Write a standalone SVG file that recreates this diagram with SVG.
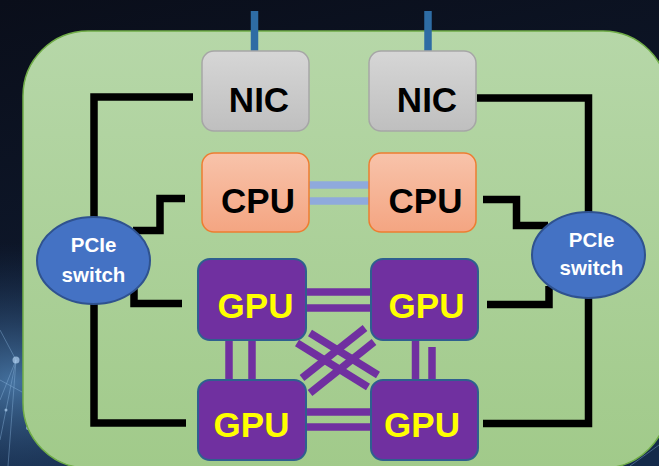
<svg xmlns="http://www.w3.org/2000/svg" width="659" height="466" viewBox="0 0 659 466">
<defs>
<linearGradient id="bg" x1="0" y1="0" x2="0.3" y2="1">
<stop offset="0" stop-color="#0a0e1a"/>
<stop offset="0.5" stop-color="#0d1628"/>
<stop offset="1" stop-color="#142a4a"/>
</linearGradient>
<radialGradient id="glow" cx="0.02" cy="0.82" r="0.3">
<stop offset="0" stop-color="#4a7aaa" stop-opacity="0.9"/>
<stop offset="1" stop-color="#1a3358" stop-opacity="0"/>
</radialGradient>
<linearGradient id="board" x1="0" y1="0" x2="0" y2="1">
<stop offset="0" stop-color="#b6d7a8"/>
<stop offset="1" stop-color="#a1ca8a"/>
</linearGradient>
<linearGradient id="nicg" x1="0" y1="0" x2="0" y2="1">
<stop offset="0" stop-color="#d6d6d6"/>
<stop offset="1" stop-color="#bfbfbf"/>
</linearGradient>
<linearGradient id="cpug" x1="0" y1="0" x2="0" y2="1">
<stop offset="0" stop-color="#f8c3aa"/>
<stop offset="1" stop-color="#f4a582"/>
</linearGradient>
</defs>
<style>
.nic{fill:url(#nicg);stroke:#a6a6a6;stroke-width:1.5}
.cpu{fill:url(#cpug);stroke:#ed7d31;stroke-width:1.5}
.gpu{fill:#7030a0;stroke:#2f5f8f;stroke-width:2}
.sw{fill:#4472c4;stroke:#2f528f;stroke-width:2}
.lbl{font-family:"Liberation Sans",Arial,sans-serif;font-weight:bold;font-size:35px;text-anchor:middle}
.swl{font-family:"Liberation Sans",Arial,sans-serif;font-weight:bold;font-size:20.5px;text-anchor:middle;fill:#ffffff}
.pcie{fill:none;stroke:#000000;stroke-width:7.5;stroke-linejoin:miter;stroke-linecap:butt}
.nv{stroke:#7030a0;stroke-width:7.5;stroke-linecap:butt}
.upi{stroke:#8faadc;stroke-width:7.5}
.eth{stroke:#2e6ca4;stroke-width:7.5}
</style>
<rect width="659" height="466" fill="url(#bg)"/>
<rect width="659" height="466" fill="url(#glow)"/>
<g stroke="#8fb8e0" stroke-opacity="0.4" stroke-width="1" fill="none">
<path d="M0,330 L16,360 L0,400 M16,360 L8,466 M0,440 L16,360 M0,380 L22,392"/>
<path d="M600,466 L659,420 M630,466 L659,445"/>
</g>
<g fill="#b0d0f0" fill-opacity="0.7">
<circle cx="16" cy="360" r="3.5"/>
<circle cx="28" cy="428" r="2"/>
<circle cx="6" cy="410" r="1.5"/>
</g>
<rect id="board" x="23" y="31" width="645" height="437" rx="65" ry="65" fill="url(#board)" stroke="#70ad47" stroke-width="1.5"/>
<g id="connectors">
<line class="eth" x1="254.5" y1="11" x2="254.5" y2="51"/>
<line class="eth" x1="428" y1="11" x2="428" y2="51"/>
<line class="upi" x1="309" y1="185" x2="369" y2="185"/>
<line class="upi" x1="309" y1="201" x2="369" y2="201"/>
<path class="pcie" d="M193,97 H94 V218"/>
<path class="pcie" d="M185,198.5 H160 V230.5 H133"/>
<path class="pcie" d="M134,289 V303.5 H182"/>
<path class="pcie" d="M94,303 V423 H186"/>
<path class="pcie" d="M477,98 H588.5 V213"/>
<path class="pcie" d="M483,199.5 H516.5 V225.5 H548"/>
<path class="pcie" d="M487,304.5 H549 V286"/>
<path class="pcie" d="M588.5,297 V423.5 H483"/>
<line class="nv" x1="306" y1="292" x2="371" y2="292"/>
<line class="nv" x1="306" y1="308" x2="371" y2="308"/>
<line class="nv" x1="306" y1="412" x2="371" y2="412"/>
<line class="nv" x1="306" y1="427" x2="371" y2="427"/>
<line class="nv" x1="229" y1="340" x2="229" y2="380"/>
<line class="nv" x1="252" y1="340" x2="252" y2="380"/>
<line class="nv" x1="415.5" y1="340" x2="415.5" y2="380"/>
<line class="nv" x1="432" y1="347" x2="432" y2="380"/>
<line class="nv" x1="310" y1="333" x2="378" y2="375"/>
<line class="nv" x1="297" y1="343" x2="368" y2="387"/>
<line class="nv" x1="302" y1="378" x2="365" y2="328"/>
<line class="nv" x1="310" y1="393" x2="374" y2="342"/>
</g>
<g id="nic1"><rect class="nic" x="202" y="51" width="107" height="80" rx="12"/><text class="lbl" x="259" y="112" fill="#000">NIC</text></g>
<g id="nic2"><rect class="nic" x="369" y="51" width="107" height="80" rx="12"/><text class="lbl" x="427" y="112" fill="#000">NIC</text></g>
<g id="cpu1"><rect class="cpu" x="202" y="153" width="107" height="79" rx="12"/><text class="lbl" x="258" y="213" fill="#000">CPU</text></g>
<g id="cpu2"><rect class="cpu" x="369" y="153" width="107" height="79" rx="12"/><text class="lbl" x="425.5" y="213" fill="#000">CPU</text></g>
<g id="sw1"><ellipse class="sw" cx="93.5" cy="260.5" rx="56.5" ry="43.5"/><text class="swl" x="93.5" y="252">PCIe</text><text class="swl" x="93.5" y="282">switch</text></g>
<g id="sw2"><ellipse class="sw" cx="588.5" cy="255" rx="56.5" ry="43"/><text class="swl" x="591.5" y="247">PCIe</text><text class="swl" x="591.5" y="275">switch</text></g>
<g id="gpu1"><rect class="gpu" x="198" y="259" width="108" height="81" rx="12"/><text class="lbl" x="255.5" y="318" fill="#ffff00">GPU</text></g>
<g id="gpu2"><rect class="gpu" x="371" y="259" width="107" height="81" rx="12"/><text class="lbl" x="426.5" y="318" fill="#ffff00">GPU</text></g>
<g id="gpu3"><rect class="gpu" x="198" y="380" width="108" height="80" rx="12"/><text class="lbl" x="251.5" y="437" fill="#ffff00">GPU</text></g>
<g id="gpu4"><rect class="gpu" x="371" y="380" width="107" height="80" rx="12"/><text class="lbl" x="422" y="437" fill="#ffff00">GPU</text></g>
</svg>
